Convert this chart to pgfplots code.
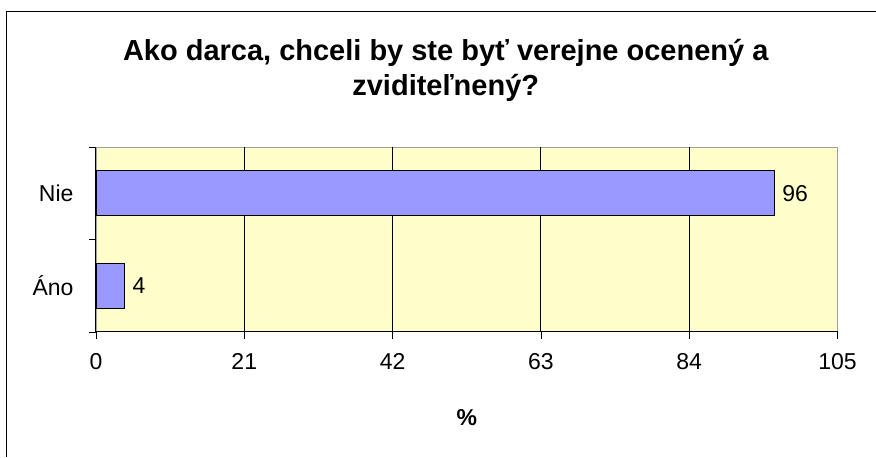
\documentclass[border=0pt]{standalone}
\usepackage{fontspec}
\setmainfont{Liberation Sans}
\usepackage{pgfplots}
\pgfplotsset{compat=1.18}
\usetikzlibrary{calc}
\definecolor{barblue}{HTML}{9999FF}
\definecolor{plotbg}{HTML}{FFFFCC}
\definecolor{boxgray}{HTML}{A0A0A0}

\begin{document}
\begin{tikzpicture}
\begin{axis}[
    scale only axis,
    width=742pt, height=185pt,
    xbar,
    bar width=45pt,
    xmin=0, xmax=105,
    ymin=-0.5, ymax=1.5,
    xtick={0,21,...,105},
    ytick={0,1},
    yticklabels={Áno, Nie},
    minor ytick={-0.5,0.5,1.5},
    tick align=outside,
    xtick pos=bottom, ytick pos=left,
    major tick length=7pt, minor tick length=7pt,
    major y tick style={draw=none},
    every tick/.style={black},
    minor y tick style={black},
    extra x ticks={21,42,63,84},
    extra x tick labels={},
    extra x tick style={grid=major, major grid style={black, line width=0.8pt}, major tick length=7pt},
    axis background/.style={fill=plotbg},
    axis line style={boxgray, line width=0.8pt},
    /pgf/number format/assume math mode=true,
    tick label style={font=\fontsize{23}{27}\selectfont},
    xticklabel style={yshift=-11pt},
    yticklabel style={xshift=-12pt},
    xlabel={\%},
    xlabel style={font=\fontsize{23}{27}\selectfont\bfseries, at={(rel axis cs:0.5,0)}, anchor=center, yshift=-86pt},
    nodes near coords,
    nodes near coords style={font=\fontsize{23}{27}\selectfont, anchor=west, inner sep=0pt, xshift=8pt},
    clip=false,
]
\addplot[fill=barblue, draw=black, line width=0.8pt] coordinates {(4,0) (96,1)};
\draw[black, line width=0.9pt] (rel axis cs:0,1) -- (rel axis cs:0,0) -- (rel axis cs:1,0);
\coordinate (O) at (rel axis cs:0,0);
\end{axis}
% picture frame and title (image is 876 x 457, plot origin at 96,332)
\path ($(O)+(-96pt,-125pt)$) rectangle ($(O)+(780pt,332pt)$);
\draw[black, line width=1pt] ($(O)+(-89pt,-125pt)$) -- ($(O)+(-89pt,320.5pt)$) -- ($(O)+(780pt,320.5pt)$);
\node[anchor=base, font=\fontsize{29}{34}\selectfont\bfseries, inner sep=0pt]
    at ($(O)+(350pt,271pt)$) {Ako darca, chceli by ste byť verejne ocenený a};
\node[anchor=base, font=\fontsize{29}{34}\selectfont\bfseries, inner sep=0pt]
    at ($(O)+(350pt,236pt)$) {zviditeľnený?};
\end{tikzpicture}
\end{document}
